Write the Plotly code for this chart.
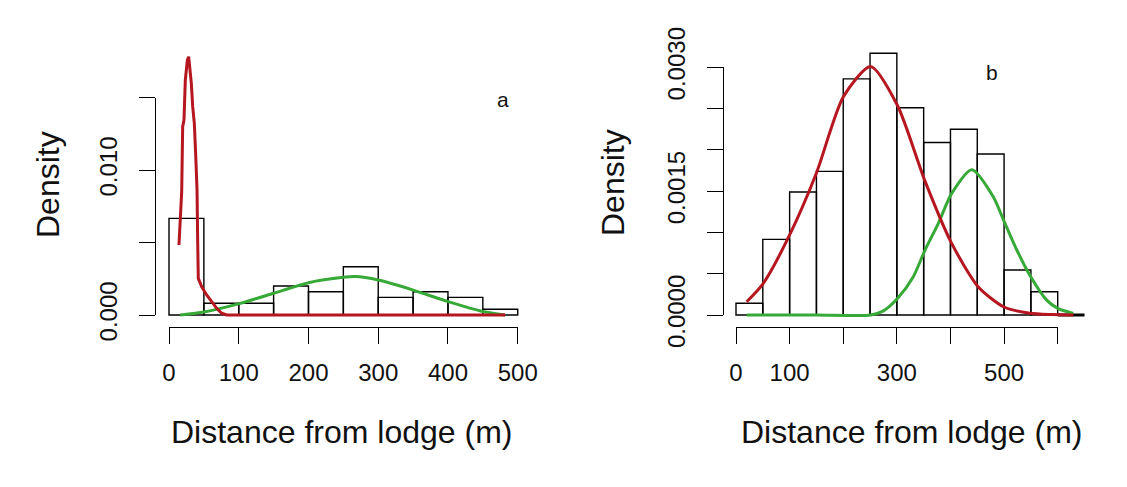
import plotly.graph_objects as go

W, H = 1127, 487

# ---------------- data ----------------
# panel a histogram (bin width 50)
a_bin_left = [0, 50, 100, 150, 200, 250, 300, 350, 400, 450]
a_density = [0.00667, 0.00081, 0.00081, 0.0020, 0.0016, 0.00333, 0.00122, 0.0016, 0.00122, 0.0004]
# panel a fitted curves
a_red_x = [14.3, 15.8, 18.2, 19.6, 21.5, 23.4, 26.3, 28.2, 30.1, 32, 34, 36.3, 38.2, 40.2, 41.1, 42,
           46.9, 54, 61.2, 68.4, 75.5, 82.7, 482]
a_red_y = [0.00483, 0.00598, 0.00851, 0.0130, 0.01346, 0.01622, 0.0176, 0.01783, 0.01691, 0.016, 0.01438,
           0.01323, 0.01116, 0.00863, 0.00518, 0.00253, 0.00195, 0.00138, 0.00092, 0.00046, 0.00012, 0.0, 0.0]
a_green_x = [16, 50, 102, 150, 200, 250, 267, 300, 350, 400, 451, 482]
a_green_y = [0.0, 0.0002, 0.0008, 0.0015, 0.00223, 0.0026, 0.00265, 0.00241, 0.00172, 0.00092, 0.00023, 0.0]

# panel b histogram (bin width 50)
b_bin_left = [0, 50, 100, 150, 200, 250, 300, 350, 400, 450, 500, 550, 600]
b_density = [0.000142, 0.000916, 0.00149, 0.00174, 0.00286, 0.00317, 0.00251, 0.00209, 0.00225, 0.00195, 0.000545, 0.000282, 0.0]
# panel b fitted curves
b_red_x = [20, 51, 100, 150, 200, 251, 301, 352, 402, 452, 499, 548, 590, 629]
b_red_y = [0.000161, 0.000384, 0.00097, 0.00172, 0.00264, 0.00301, 0.00254, 0.00163, 0.00087, 0.00034, 0.0001, 0.00002, 0.000005, 0.0]
b_green_x = [20, 150, 251, 275, 301.5, 330.7, 352.6, 377.4, 402, 440, 480, 499, 523.5, 550, 579.5, 600, 629]
b_green_y = [0.0, 0.0, 0.0, 0.00005, 0.000202, 0.000464, 0.000787, 0.00111, 0.00147, 0.00176,
             0.00143, 0.00115, 0.00079, 0.00046, 0.00018, 0.00008, 0.00002]

a_xticks = [0, 100, 200, 300, 400, 500]
a_xticklabels = ["0", "100", "200", "300", "400", "500"]
a_yticks = [0.0, 0.005, 0.010, 0.015]
a_yticklabels = ["0.000", "", "0.010", ""]
b_xticks = [0, 100, 200, 300, 400, 500, 600]
b_xticklabels = ["0", "100", "", "300", "", "500", ""]
b_yticks = [0.0, 0.0005, 0.0010, 0.0015, 0.0020, 0.0025, 0.0030]
b_yticklabels = ["0.0000", "", "", "0.0015", "", "", "0.0030"]

BIN = 50
RED = "#b5161f"
GREEN = "#36a936"
FONT = "Liberation Sans"


def px(v):
    return v / W


def py(v):
    return 1 - v / H


def xdom(p0, u_at_p0, ppu, dp0, dp1):
    return [px(dp0), px(dp1)], [u_at_p0 + (dp0 - p0) / ppu, u_at_p0 + (dp1 - p0) / ppu]


def ydom(p0, ppu, dp_bottom, dp_top):
    return [py(dp_bottom), py(dp_top)], [(p0 - dp_bottom) / ppu, (p0 - dp_top) / ppu]


# panel a geometry (pixels)
a_x0px, a_x500px = 169.0, 517.7
a_ppu_x = (a_x500px - a_x0px) / 500
a_y0px, a_y15px = 315.0, 97.7
a_ppu_y = (a_y0px - a_y15px) / 0.015
# panel b geometry
b_x0px, b_x600px = 736.0, 1057.7
b_ppu_x = (b_x600px - b_x0px) / 600
b_y0px, b_y3px = 315.0, 67.3
b_ppu_y = (b_y0px - b_y3px) / 0.003

fig = go.Figure()

line_style = dict(color="black", width=1.4)

# panel a
fig.add_trace(go.Bar(x=[b + BIN / 2 for b in a_bin_left], y=a_density, width=BIN,
                     marker=dict(color="rgba(255,255,255,0)", line=line_style),
                     xaxis="x", yaxis="y", showlegend=False))
fig.add_trace(go.Scatter(x=a_green_x, y=a_green_y, mode="lines", line=dict(color=GREEN, width=3, shape="spline", smoothing=0.6),
                         xaxis="x", yaxis="y", showlegend=False))
fig.add_trace(go.Scatter(x=a_red_x, y=a_red_y, mode="lines", line=dict(color=RED, width=3),
                         xaxis="x", yaxis="y", showlegend=False))

# panel b
nonzero = [(b, d) for b, d in zip(b_bin_left, b_density) if d > 0]
zero = [(b, d) for b, d in zip(b_bin_left, b_density) if d == 0]
fig.add_trace(go.Bar(x=[b + BIN / 2 for b, d in nonzero], y=[d for b, d in nonzero], width=BIN,
                     marker=dict(color="rgba(255,255,255,0)", line=line_style),
                     xaxis="x2", yaxis="y2", showlegend=False))
for b, d in zero:
    fig.add_trace(go.Scatter(x=[b, b + BIN], y=[d, d], mode="lines", line=dict(color="black", width=3),
                             xaxis="x2", yaxis="y2", showlegend=False))
fig.add_trace(go.Scatter(x=b_green_x, y=b_green_y, mode="lines", line=dict(color=GREEN, width=3, shape="spline", smoothing=0.7),
                         xaxis="x2", yaxis="y2", showlegend=False))
fig.add_trace(go.Scatter(x=b_red_x, y=b_red_y, mode="lines", line=dict(color=RED, width=3, shape="spline", smoothing=0.7),
                         xaxis="x2", yaxis="y2", showlegend=False))

# dummy traces to instantiate the display axes
fig.add_trace(go.Scatter(x=[], y=[], xaxis="x3", yaxis="y3", showlegend=False))
fig.add_trace(go.Scatter(x=[], y=[], xaxis="x4", yaxis="y4", showlegend=False))

a_xd, a_xr = xdom(a_x0px, 0, a_ppu_x, 158, 530)
a_yd, a_yr = ydom(a_y0px, a_ppu_y, 322, 40)
b_xd, b_xr = xdom(b_x0px, 0, b_ppu_x, 725, 1100)
b_yd, b_yr = ydom(b_y0px, b_ppu_y, 322, 40)

a_xdd = [px(a_x0px), px(a_x500px)]
a_ydd = [py(a_y0px), py(a_y15px)]
b_xdd = [px(b_x0px), px(b_x600px)]
b_ydd = [py(b_y0px), py(b_y3px)]

tickfont = dict(family=FONT, size=24, color="#111")
disp_common = dict(showgrid=False, zeroline=False, showline=True, linecolor="black", linewidth=1.4,
                   ticks="outside", ticklen=16, tickwidth=1.4, tickcolor="black", tickfont=tickfont,
                   tickmode="array", fixedrange=True, automargin=False)
hidden = dict(visible=False, automargin=False, fixedrange=True)

fig.update_layout(
    width=W, height=H, margin=dict(l=0, r=0, t=0, b=0, pad=0, autoexpand=False),
    paper_bgcolor="white", plot_bgcolor="rgba(0,0,0,0)",
    barmode="overlay", showlegend=False,
    xaxis=dict(domain=a_xd, range=a_xr, anchor="y", **hidden),
    yaxis=dict(domain=a_yd, range=a_yr, anchor="x", **hidden),
    xaxis2=dict(domain=b_xd, range=b_xr, anchor="y2", **hidden),
    yaxis2=dict(domain=b_yd, range=b_yr, anchor="x2", **hidden),
    xaxis3=dict(domain=a_xdd, range=[0, 500], anchor="free", position=py(326.7),
                tickvals=a_xticks, ticktext=a_xticklabels, ticklabelstandoff=8, **disp_common),
    yaxis3=dict(domain=a_ydd, range=[0, 0.015], anchor="free", position=px(155),
                tickvals=a_yticks, ticktext=a_yticklabels, tickangle=-90, ticklabelstandoff=12, **disp_common),
    xaxis4=dict(domain=b_xdd, range=[0, 600], anchor="free", position=py(326.7),
                tickvals=b_xticks, ticktext=b_xticklabels, ticklabelstandoff=8, **disp_common),
    yaxis4=dict(domain=b_ydd, range=[0, 0.003], anchor="free", position=px(722.7),
                tickvals=b_yticks, ticktext=b_yticklabels, tickangle=-90, ticklabelstandoff=12, **disp_common),
)

title_font = dict(family=FONT, size=32, color="#111")
ann = [
    dict(text="Distance from lodge (m)", x=px(341), y=py(432), font=title_font),
    dict(text="Distance from lodge (m)", x=px(911), y=py(432), font=title_font),
    dict(text="Density", x=px(48), y=py(185), font=title_font, textangle=-90),
    dict(text="Density", x=px(613), y=py(183), font=title_font, textangle=-90),
    dict(text="a", x=px(503), y=py(100), font=dict(family=FONT, size=21, color="#111")),
    dict(text="b", x=px(992), y=py(73), font=dict(family=FONT, size=21, color="#111")),
]
for a in ann:
    fig.add_annotation(xref="paper", yref="paper", xanchor="center", yanchor="middle", showarrow=False, **a)

fig.write_html("out.html")
